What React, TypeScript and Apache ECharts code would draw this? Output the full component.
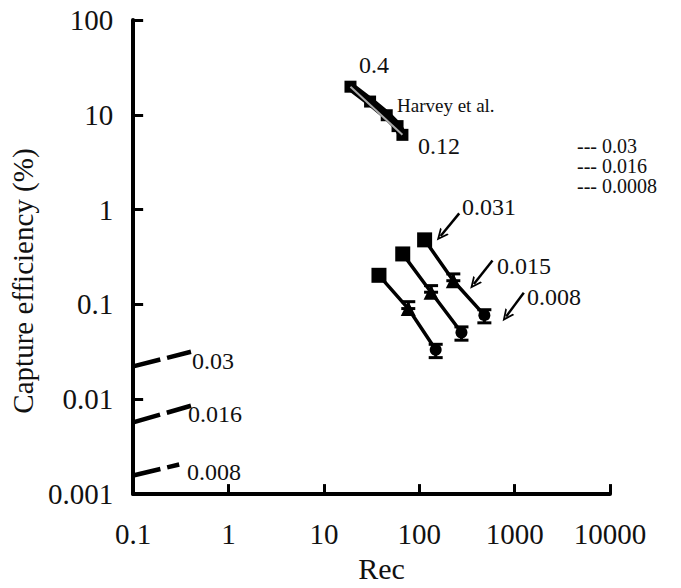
import React, { useEffect, useRef } from "react";
import * as echarts from "echarts";

// Three experimental lines (square = 0.031, triangle = 0.015, circle = 0.008)
const recA = [37.8, 76.7, 148.7];
const effA = [0.203, 0.0905, 0.0333];
const hiA = [null, 0.107, 0.038];
const loA = [null, 0.0905, 0.0275];

const recB = [67.1, 133, 277];
const effB = [0.341, 0.1346, 0.0507];
const hiB = [null, 0.158, 0.058];
const loB = [null, 0.1346, 0.042];

const recC = [113.8, 227.6, 481.6];
const effC = [0.48, 0.178, 0.0771];
const hiC = [null, 0.21, 0.088];
const loC = [null, 0.178, 0.064];

const shapes = ["rect", "triangle", "circle"];
const shapeSizes = [15, 15, 12];

// Harvey et al. band
const harveyRec = [19.0, 30.5, 45.6, 59.2, 66.6];
const harveyEff = [19.8, 13.8, 9.9, 7.6, 6.15];

// Short dashed lines at low Rec
const dashRec = [
  [0.1, 0.404],
  [0.1, 0.404],
  [0.1, 0.304],
];
const dashEff = [
  [0.0222, 0.0317],
  [0.0057, 0.00855],
  [0.00157, 0.00205],
];
const dashLabels = ["0.03", "0.016", "0.008"];

// Arrows (tail -> tip)
const arrowTail = [
  [262.4, 0.914],
  [586, 0.291],
  [1248, 0.1325],
];
const arrowTip = [
  [167.5, 0.528],
  [374, 0.164],
  [816, 0.0748],
];

const xTicks = [0.1, 1, 10, 100, 1000, 10000];
const yTicks = [0.001, 0.01, 0.1, 1, 10, 100];

const legendTexts = ["--- 0.03", "--- 0.016", "--- 0.0008"];

const FONT = "'Liberation Serif', 'Times New Roman', serif";

function fmt(v: number) {
  return String(parseFloat(Number(v).toPrecision(3)));
}

export default function App() {
  const ref = useRef<HTMLDivElement>(null);

  useEffect(() => {
    document.body.style.margin = "0";
    if (!ref.current) return;
    const chart = echarts.init(ref.current, null, { renderer: "svg" });

    const makeLine = (rec: number[], eff: number[]) => ({
      type: "line",
      data: rec.map((r, i) => ({
        value: [r, eff[i]],
        symbol: shapes[i],
        symbolSize: shapeSizes[i],
      })),
      lineStyle: { color: "#000", width: 3.5 },
      itemStyle: { color: "#000" },
      z: 3,
    });

    const makeErr = (rec: number[], hi: (number | null)[], lo: (number | null)[]) => ({
      type: "custom",
      data: rec
        .map((r, i) => (hi[i] == null ? null : [r, hi[i], lo[i]]))
        .filter((d) => d !== null),
      renderItem: (params: any, api: any) => {
        const x = api.value(0);
        const top = api.coord([x, api.value(1)]);
        const bot = api.coord([x, api.value(2)]);
        const half = 7;
        const style = { stroke: "#000", lineWidth: 3 };
        const children: any[] = [
          { type: "line", shape: { x1: top[0], y1: top[1], x2: bot[0], y2: bot[1] }, style },
          { type: "line", shape: { x1: top[0] - half, y1: top[1], x2: top[0] + half, y2: top[1] }, style },
        ];
        if (Math.abs(bot[1] - top[1]) > 1 && api.value(2) < api.value(1)) {
          children.push({
            type: "line",
            shape: { x1: bot[0] - half, y1: bot[1], x2: bot[0] + half, y2: bot[1] },
            style,
          });
        }
        return { type: "group", children };
      },
      z: 4,
    });

    const dashSeries = dashRec.map((rs, k) => ({
      type: "line",
      data: rs.map((r, i) => [r, dashEff[k][i]]),
      symbol: "none",
      lineStyle: { color: "#000", width: 4.5, type: [28, 7], cap: "butt" },
      z: 2,
    }));

    const arrowPath = "path://M0,10 L5,0 L10,10 L8.3,10 L5,3.6 L1.7,10 Z";

    const option: any = {
      animation: false,
      backgroundColor: "#fff",
      grid: { left: 123, right: 71, top: 20, bottom: 85, containLabel: false },
      xAxis: {
        type: "log",
        logBase: 10,
        min: xTicks[0],
        max: xTicks[xTicks.length - 1],
        name: "Rec",
        nameLocation: "middle",
        nameGap: 53,
        nameTextStyle: { fontFamily: FONT, fontSize: 30, color: "#111", padding: [0, 0, 0, 20] },
        axisLine: { lineStyle: { color: "#000", width: 4 } },
        axisTick: { inside: true, length: 10, lineStyle: { color: "#000", width: 3 } },
        axisLabel: { fontFamily: FONT, fontSize: 29, color: "#111", margin: 25, formatter: fmt },
        splitLine: { show: false },
        minorTick: { show: false },
      },
      yAxis: {
        type: "log",
        logBase: 10,
        min: yTicks[0],
        max: yTicks[yTicks.length - 1],
        name: "Capture efficiency (%)",
        nameLocation: "middle",
        nameGap: 88,
        nameTextStyle: { fontFamily: FONT, fontSize: 29, color: "#111", padding: [0, 48, 0, 0] },
        axisLine: { lineStyle: { color: "#000", width: 4 } },
        axisTick: { inside: true, length: 10, lineStyle: { color: "#000", width: 3 } },
        axisLabel: { fontFamily: FONT, fontSize: 29, color: "#111", margin: 20, formatter: fmt },
        splitLine: { show: false },
        minorTick: { show: false },
      },
      series: [
        {
          type: "line",
          data: harveyRec.map((r, i) => [r, harveyEff[i]]),
          symbol: "rect",
          symbolSize: 12,
          lineStyle: { color: "#000", width: 9 },
          itemStyle: { color: "#000" },
          z: 3,
        },
        {
          type: "line",
          data: [
            [harveyRec[0], harveyEff[0]],
            [harveyRec[harveyRec.length - 1], harveyEff[harveyEff.length - 1]],
          ],
          symbol: "none",
          lineStyle: { color: "#aaa", width: 2 },
          z: 5,
        },
        makeLine(recA, effA),
        makeLine(recB, effB),
        {
          ...makeLine(recC, effC),
          markLine: {
            silent: true,
            symbol: ["none", arrowPath],
            symbolSize: [11, 12],
            lineStyle: { color: "#000", width: 2.5, type: "solid" },
            label: { show: false },
            data: arrowTail.map((t, i) => [{ coord: t }, { coord: arrowTip[i] }]),
          },
        },
        makeErr(recA, hiA, loA),
        makeErr(recB, hiB, loB),
        makeErr(recC, hiC, loC),
        ...dashSeries,
      ],
      graphic: [
        { type: "text", left: 359, top: 53, style: { text: "0.4", font: `24px ${FONT}`, fill: "#111" } },
        { type: "text", left: 397, top: 96, style: { text: "Harvey et al.", font: `19px ${FONT}`, fill: "#111" } },
        { type: "text", left: 418, top: 134, style: { text: "0.12", font: `24px ${FONT}`, fill: "#111" } },
        { type: "text", left: 462, top: 195, style: { text: "0.031", font: `24px ${FONT}`, fill: "#111" } },
        { type: "text", left: 497, top: 254, style: { text: "0.015", font: `24px ${FONT}`, fill: "#111" } },
        { type: "text", left: 527, top: 285, style: { text: "0.008", font: `24px ${FONT}`, fill: "#111" } },
        ...dashLabels.map((t, i) => ({
          type: "text",
          left: [192, 188, 187][i],
          top: [349, 402, 460][i],
          style: { text: t, font: `24px ${FONT}`, fill: "#111" },
        })),
        ...legendTexts.map((t, i) => ({
          type: "text",
          left: 577,
          top: 136 + i * 20,
          style: { text: t, font: `20px ${FONT}`, fill: "#111", lineHeight: 19 },
        })),
      ],
    };

    chart.setOption(option);
    return () => chart.dispose();
  }, []);

  return <div ref={ref} style={{ width: 681, height: 588 }} />;
}
